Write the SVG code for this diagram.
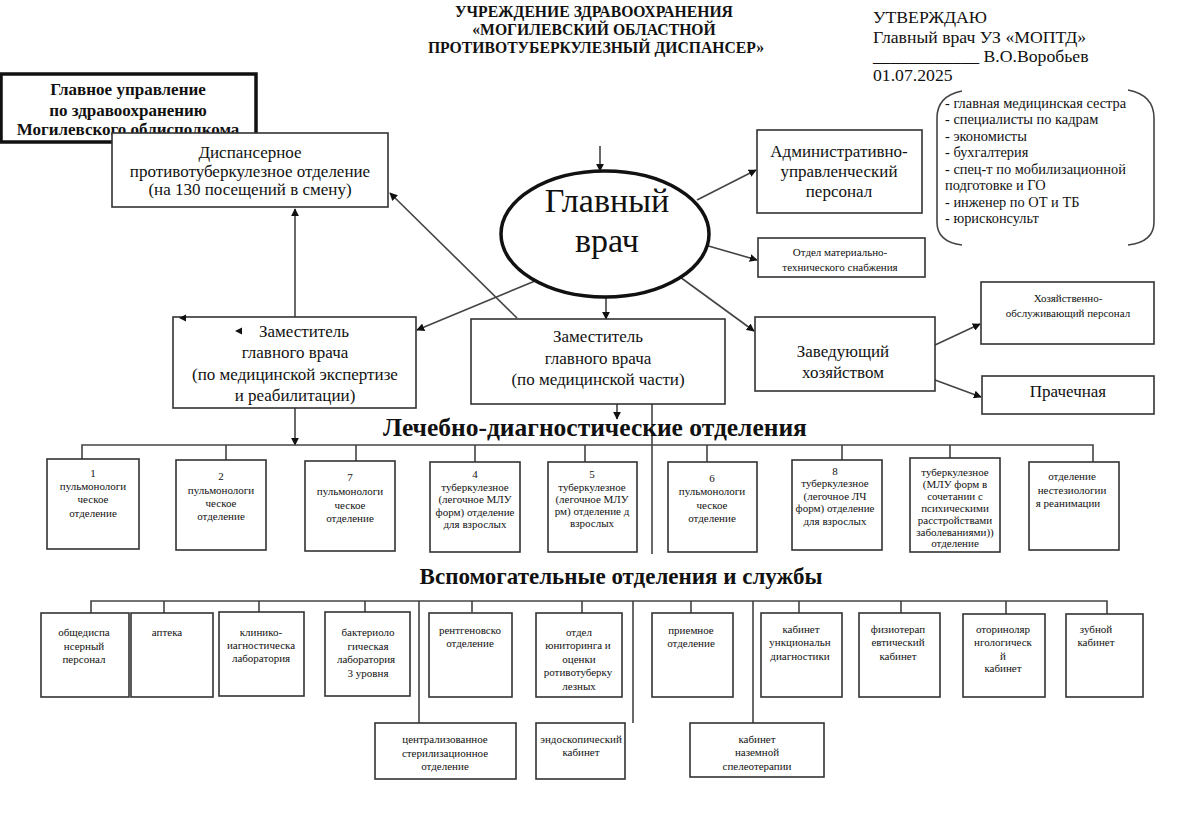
<svg xmlns="http://www.w3.org/2000/svg" width="1193" height="814" viewBox="0 0 1193 814" font-family="'Liberation Serif', 'Times New Roman', serif">
<defs>
<style>
text{font-family:"Liberation Serif","Times New Roman",serif;fill:#111;}
.box{fill:#fff;stroke:#333;stroke-width:1.6;}
.ln{fill:none;stroke:#444;stroke-width:1.6;}
.s{font-size:11px;text-anchor:middle;}
.m{font-size:17px;text-anchor:middle;}
.h{font-weight:bold;text-anchor:middle;}
</style>
<marker id="ar" viewBox="0 0 10 10" refX="9" refY="5" markerWidth="8" markerHeight="8" orient="auto" markerUnits="userSpaceOnUse">
<path d="M0,0 L10,5 L0,10 z" fill="#111"/>
</marker>
</defs>
<rect width="1193" height="814" fill="#fff"/>

<g id="header">
<text class="h" x="594" y="17" font-size="15.7">УЧРЕЖДЕНИЕ ЗДРАВООХРАНЕНИЯ</text>
<text class="h" x="594" y="35" font-size="15.7">«МОГИЛЕВСКИЙ ОБЛАСТНОЙ</text>
<text class="h" x="596" y="53" font-size="15.7">ПРОТИВОТУБЕРКУЛЕЗНЫЙ ДИСПАНСЕР»</text>
</g>
<g id="approve" font-size="17.7">
<text x="873" y="23">УТВЕРЖДАЮ</text>
<text x="873" y="43">Главный врач УЗ «МОПТД»</text>
<text x="873" y="62">____________ В.О.Воробьев</text>
<text x="873" y="81">01.07.2025</text>
</g>

<g id="connectors">
<line class="ln" x1="600" y1="146" x2="600" y2="171" marker-end="url(#ar)"/>
<line class="ln" x1="697" y1="200" x2="756" y2="170" marker-end="url(#ar)"/>
<line class="ln" x1="705" y1="245" x2="757" y2="260" marker-end="url(#ar)"/>
<line class="ln" x1="680" y1="277" x2="754" y2="331" marker-end="url(#ar)"/>
<line class="ln" x1="535" y1="281" x2="417" y2="330" marker-end="url(#ar)"/>
<line class="ln" x1="517" y1="318" x2="390" y2="193" marker-end="url(#ar)"/>
<line class="ln" x1="606" y1="296" x2="606" y2="319" marker-end="url(#ar)"/>
<line class="ln" x1="295" y1="317" x2="295" y2="209" marker-end="url(#ar)"/>
<line class="ln" x1="935" y1="345" x2="980" y2="324" marker-end="url(#ar)"/>
<line class="ln" x1="935" y1="380" x2="981" y2="397" marker-end="url(#ar)"/>
<line class="ln" x1="295" y1="408" x2="295" y2="445" marker-end="url(#ar)"/>
<line class="ln" x1="617" y1="404" x2="617" y2="419" marker-end="url(#ar)"/>
<line class="ln" x1="652" y1="404" x2="652" y2="554"/>
<path class="ln" d="M82,459 V445 H1093 V462 M226,445 V460 M356,445 V461 M475,445 V462 M585,445 V462 M707,445 V462 M842,445 V460 M950,445 V458"/>
<path class="ln" d="M91,613 V601 H1107 V614 M164,601 V613 M259,601 V612 M365,601 V612 M472,601 V612 M582,601 V613 M691,601 V613 M799,601 V613 M901,601 V613 M1006,601 V614"/>
<path class="ln" d="M419,601 V723 M633,601 V723 M753,601 V723"/>
</g>

<g id="n-gu">
<rect x="1" y="74" width="255" height="68" fill="#fff" stroke="#111" stroke-width="3.5"/>
<text class="h" x="128" y="95" font-size="17">Главное управление</text>
<text class="h" x="128" y="116" font-size="17">по здравоохранению</text>
<text class="h" x="128" y="135" font-size="17">Могилевского облисполкома</text>
</g>
<g id="n-disp">
<rect class="box" x="112" y="133" width="276" height="74"/>
<text class="m" x="250" y="158">Диспансерное</text>
<text class="m" x="250" y="177">противотуберкулезное отделение</text>
<text class="m" x="250" y="195">(на 130 посещений в смену)</text>
</g>
<g id="n-chief">
<ellipse cx="605" cy="234" rx="104" ry="63" fill="#fff" stroke="#111" stroke-width="3.5"/>
<text x="607" y="212" font-size="34" text-anchor="middle">Главный</text>
<text x="607" y="252" font-size="34" text-anchor="middle">врач</text>
</g>
<g id="n-admin">
<rect class="box" x="757" y="130" width="165" height="83"/>
<text x="839" y="157" font-size="17" text-anchor="middle">Административно-</text>
<text x="839" y="177" font-size="17" text-anchor="middle">управленческий</text>
<text x="839" y="197" font-size="17" text-anchor="middle">персонал</text>
</g>
<g id="n-list">
<path class="ln" d="M962,91 Q937,96 937,118 V222 Q937,242 962,245"/>
<path class="ln" d="M1128,90 Q1154,95 1154,118 V222 Q1154,242 1128,245"/>
<g font-size="14.4">
<text x="945" y="108">- главная медицинская сестра</text>
<text x="945" y="124">- специалисты по кадрам</text>
<text x="945" y="141">- экономисты</text>
<text x="945" y="157">- бухгалтерия</text>
<text x="945" y="174">- спец-т по мобилизационной</text>
<text x="945" y="190">подготовке и ГО</text>
<text x="945" y="207">- инженер по ОТ и ТБ</text>
<text x="945" y="223">- юрисконсульт</text>
</g>
</g>
<g id="n-mts">
<rect class="box" x="758" y="238" width="167" height="39"/>
<text class="s" x="840" y="256" font-size="13.6">Отдел материально-</text>
<text class="s" x="840" y="271" font-size="13.6">технического снабжения</text>
</g>
<g id="n-zamexp">
<rect class="box" x="173" y="317" width="243" height="91"/>
<text class="m" x="304" y="337">Заместитель</text>
<text class="m" x="295" y="358">главного врача</text>
<text class="m" x="295" y="380">(по медицинской экспертизе</text>
<text class="m" x="295" y="401">и реабилитации)</text>
</g>
<g id="n-zammed">
<rect class="box" x="471" y="319" width="254" height="85"/>
<text class="m" x="598" y="342">Заместитель</text>
<text class="m" x="598" y="364">главного врача</text>
<text class="m" x="598" y="385">(по медицинской части)</text>
</g>
<g id="n-zavhoz">
<rect class="box" x="755" y="317" width="180" height="74"/>
<text x="843" y="357" font-size="17" text-anchor="middle">Заведующий</text>
<text x="843" y="378" font-size="17" text-anchor="middle">хозяйством</text>
</g>
<g id="n-hozobsl">
<rect class="box" x="981" y="282" width="173" height="62"/>
<text class="s" x="1068" y="302" font-size="13.6">Хозяйственно-</text>
<text class="s" x="1068" y="317" font-size="13.6">обслуживающий персонал</text>
</g>
<g id="n-prach">
<rect class="box" x="982" y="376" width="172" height="38"/>
<text x="1068" y="397" font-size="17" text-anchor="middle">Прачечная</text>
</g>

<g id="marks">
<path d="M186,314.5 L179,318 L186,321.5 z" fill="#111"/>
<path d="M242,327.5 L235,331 L242,334.5 z" fill="#111"/>
</g>

<text class="h" x="595" y="436" font-size="25.5">Лечебно-диагностические отделения</text>
<text class="h" x="621" y="584" font-size="23">Вспомогательные отделения и службы</text>

<g id="r1-1"><rect class="box" x="47" y="459" width="92" height="90"/>
<text class="s" x="93" y="477" font-size="12">1</text><text class="s" x="93" y="490" font-size="12">пульмонологи</text><text class="s" x="93" y="503" font-size="12">ческое</text><text class="s" x="93" y="517" font-size="12">отделение</text></g>
<g id="r1-2"><rect class="box" x="176" y="460" width="90" height="90"/>
<text class="s" x="221" y="480" font-size="12">2</text><text class="s" x="221" y="494" font-size="12">пульмонологи</text><text class="s" x="221" y="507" font-size="12">ческое</text><text class="s" x="221" y="520" font-size="12">отделение</text></g>
<g id="r1-7"><rect class="box" x="305" y="461" width="90" height="90"/>
<text class="s" x="350" y="481" font-size="12">7</text><text class="s" x="350" y="495" font-size="12">пульмонологи</text><text class="s" x="350" y="509" font-size="12">ческое</text><text class="s" x="350" y="522" font-size="12">отделение</text></g>
<g id="r1-4"><rect class="box" x="430" y="462" width="90" height="90"/>
<text class="s" x="475" y="478" font-size="10.5">4</text><text class="s" x="475" y="491" font-size="10.5">туберкулезное</text><text class="s" x="475" y="503" font-size="10.5">(легочное МЛУ</text><text class="s" x="475" y="516" font-size="10.5">форм) отделение</text><text class="s" x="475" y="528" font-size="10.5">для взрослых</text></g>
<g id="r1-5"><rect class="box" x="548" y="462" width="89" height="90"/>
<text class="s" x="592" y="478" font-size="10.5">5</text><text class="s" x="592" y="491" font-size="10.5">туберкулезное</text><text class="s" x="592" y="503" font-size="10.5">(легочное МЛУ</text><text class="s" x="592" y="515" font-size="10.5">рм) отделение д</text><text class="s" x="592" y="527" font-size="10.5">взрослых</text></g>
<g id="r1-6"><rect class="box" x="668" y="462" width="89" height="90"/>
<text class="s" x="712" y="482" font-size="12.5">6</text><text class="s" x="712" y="495" font-size="12.5">пульмонологи</text><text class="s" x="712" y="509" font-size="12.5">ческое</text><text class="s" x="712" y="522" font-size="12.5">отделение</text></g>
<g id="r1-8"><rect class="box" x="792" y="460" width="90" height="90"/>
<text class="s" x="835" y="475" font-size="10.5">8</text><text class="s" x="835" y="487" font-size="10.5">туберкулезное</text><text class="s" x="835" y="500" font-size="10.5">(легочное ЛЧ</text><text class="s" x="835" y="512" font-size="10.5">форм) отделение</text><text class="s" x="835" y="525" font-size="10.5">для взрослых</text></g>
<g id="r1-psy"><rect class="box" x="910" y="458" width="90" height="94"/>
<text class="s" x="955" y="476" font-size="10">туберкулезное</text><text class="s" x="955" y="488" font-size="10">(МЛУ форм в</text><text class="s" x="955" y="500" font-size="10">сочетании с</text><text class="s" x="955" y="512" font-size="10">психическими</text><text class="s" x="955" y="524" font-size="10">расстройствами</text><text class="s" x="955" y="536" font-size="10">заболеваниями))</text><text class="s" x="955" y="547" font-size="10">отделение</text></g>
<g id="r1-an"><rect class="box" x="1029" y="462" width="90" height="88"/>
<text class="s" x="1072" y="480" font-size="11.5">отделение</text><text class="s" x="1072" y="494" font-size="11.5">нестезиологии</text><text class="s" x="1068" y="507" font-size="11.5">я реанимации</text></g>

<g id="r2-1"><rect class="box" x="41" y="613" width="88" height="84"/>
<text class="s" x="84" y="636">общедиспа</text><text class="s" x="84" y="650">нсерный</text><text class="s" x="84" y="663">персонал</text></g>
<g id="r2-2"><rect class="box" x="131" y="613" width="82" height="84"/>
<text class="s" x="167" y="636">аптека</text></g>
<g id="r2-3"><rect class="box" x="219" y="612" width="85" height="84"/>
<text class="s" x="261" y="636">клинико-</text><text class="s" x="261" y="649">иагностическа</text><text class="s" x="261" y="662">лаборатория</text></g>
<g id="r2-4"><rect class="box" x="325" y="612" width="85" height="84"/>
<text class="s" x="368" y="636">бактериоло</text><text class="s" x="368" y="650">гическая</text><text class="s" x="366" y="663">лаборатория</text><text class="s" x="368" y="677">3 уровня</text></g>
<g id="r2-5"><rect class="box" x="429" y="613" width="83" height="84"/>
<text class="s" x="470" y="634">рентгеновско</text><text class="s" x="470" y="647">отделение</text></g>
<g id="r2-6"><rect class="box" x="536" y="613" width="86" height="84"/>
<text class="s" x="579" y="636">отдел</text><text class="s" x="578" y="649">юниторинга и</text><text class="s" x="579" y="663">оценки</text><text class="s" x="578" y="676">ротивотуберку</text><text class="s" x="579" y="690">лезных</text></g>
<g id="r2-7"><rect class="box" x="652" y="613" width="81" height="84"/>
<text class="s" x="691" y="634">приемное</text><text class="s" x="691" y="647">отделение</text></g>
<g id="r2-8"><rect class="box" x="761" y="613" width="81" height="84"/>
<text class="s" x="801" y="633">кабинет</text><text class="s" x="800" y="646">ункциональн</text><text class="s" x="800" y="660">диагностики</text></g>
<g id="r2-9"><rect class="box" x="859" y="613" width="81" height="84"/>
<text class="s" x="898" y="633">физиотерап</text><text class="s" x="898" y="646">евтический</text><text class="s" x="898" y="660">кабинет</text></g>
<g id="r2-10"><rect class="box" x="963" y="614" width="82" height="83"/>
<text class="s" x="1003" y="633">оториноляр</text><text class="s" x="1003" y="646">нгологическ</text><text class="s" x="1003" y="660">й</text><text class="s" x="1003" y="672">кабинет</text></g>
<g id="r2-11"><rect class="box" x="1066" y="614" width="77" height="83"/>
<text class="s" x="1096" y="633">зубной</text><text class="s" x="1096" y="646">кабинет</text></g>

<g id="r3-1"><rect class="box" x="375" y="723" width="141" height="56"/>
<text class="s" x="445" y="743">централизованное</text><text class="s" x="445" y="757">стерилизационное</text><text class="s" x="445" y="770">отделение</text></g>
<g id="r3-2"><rect class="box" x="536" y="723" width="89" height="56"/>
<text class="s" x="581" y="743">эндоскопический</text><text class="s" x="581" y="756">кабинет</text></g>
<g id="r3-3"><rect class="box" x="690" y="723" width="134" height="54"/>
<text class="s" x="757" y="743">кабинет</text><text class="s" x="757" y="756">наземной</text><text class="s" x="757" y="770">спелеотерапии</text></g>
</svg>
